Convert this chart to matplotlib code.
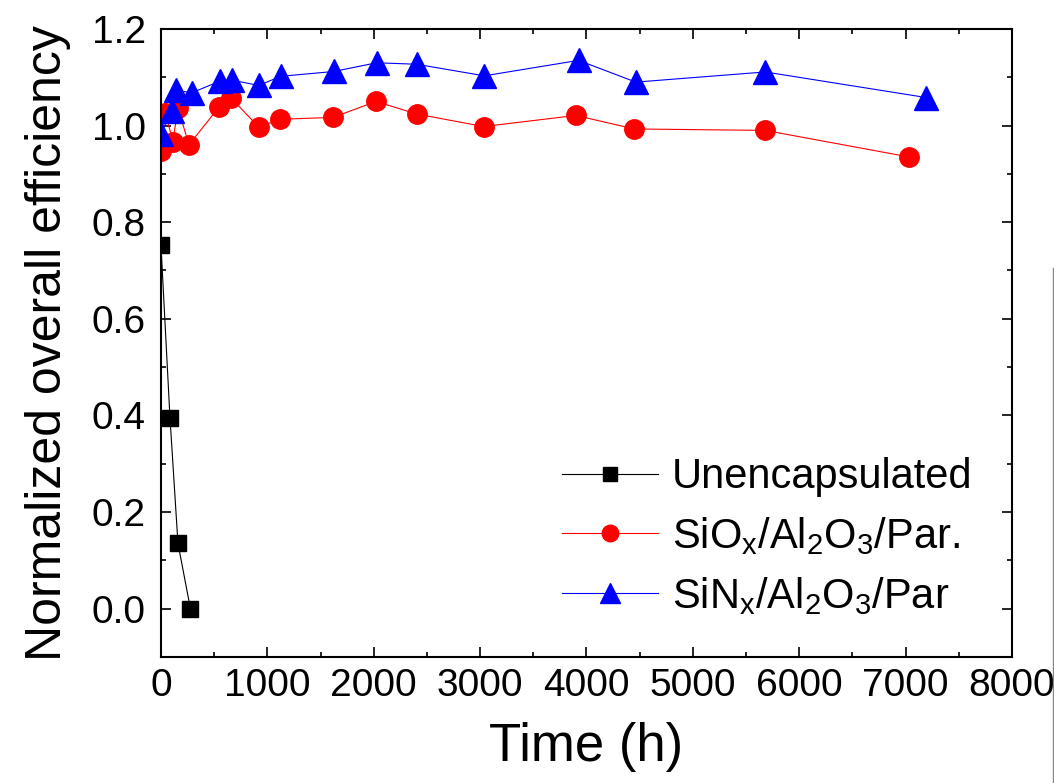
import matplotlib.pyplot as plt
from matplotlib.lines import Line2D
from matplotlib.ticker import MultipleLocator

# --Datos
t_unenc = [0, 85, 160, 277]
eff_unenc = [0.753, 0.395, 0.135, 0.0]

t_siox = [0, 40, 113, 160, 263, 545, 655, 919, 1121, 1620, 2021, 2403, 3033, 3900, 4450, 5681, 7034]
eff_siox = [0.948, 1.027, 0.967, 1.037, 0.960, 1.038, 1.058, 0.997, 1.013, 1.017, 1.050, 1.024,
            0.998, 1.021, 0.993, 0.990, 0.935]

t_sinx = [0, 100, 138, 291, 555, 670, 921, 1125, 1626, 2027, 2403, 3040, 3926, 4464, 5681, 7195]
eff_sinx = [0.983, 1.030, 1.073, 1.068, 1.092, 1.094, 1.083, 1.102, 1.112, 1.130, 1.127, 1.103,
            1.135, 1.090, 1.111, 1.058]

labels = ['Unencapsulated',
          r'SiO$_\mathregular{x}$/Al$_\mathregular{2}$O$_\mathregular{3}$/Par.',
          r'SiN$_\mathregular{x}$/Al$_\mathregular{2}$O$_\mathregular{3}$/Par']

plt.rcParams['font.family'] = ['Liberation Sans', 'DejaVu Sans']
plt.rcParams['mathtext.fontset'] = 'custom'
plt.rcParams['mathtext.rm'] = 'Liberation Sans'
plt.rcParams['mathtext.default'] = 'regular'

fig = plt.figure(figsize=(10.54, 7.83), dpi=100)
ax = fig.add_axes([0.1527, 0.161, 0.8074, 0.802])

ax.plot(t_unenc, eff_unenc, '-s', color='black', lw=0.8, ms=12, label=labels[0])
ax.plot(t_siox, eff_siox, '-o', color='#ff0000', lw=0.8, ms=14, label=labels[1])
ax.plot(t_sinx, eff_sinx, '-^', color='#0000ff', lw=0.8, ms=17, label=labels[2])

ax.set_xlim(0, 8000)
ax.set_ylim(-0.1, 1.2)
ax.xaxis.set_major_locator(MultipleLocator(1000))
ax.xaxis.set_minor_locator(MultipleLocator(500))
ax.yaxis.set_major_locator(MultipleLocator(0.2))
ax.yaxis.set_minor_locator(MultipleLocator(0.1))
ax.yaxis.set_major_formatter(plt.FormatStrFormatter('%.1f'))

ax.tick_params(which='both', direction='in', top=True, right=True, width=1.2, labelsize=28)
ax.tick_params(which='major', length=7)
ax.tick_params(which='minor', length=3.5)
ax.tick_params(axis='x', pad=8)
ax.tick_params(axis='y', pad=11)
for s in ax.spines.values():
    s.set_linewidth(1.5)

ax.set_xlabel('Time (h)', fontsize=38, labelpad=13)
ax.set_ylabel('Normalized overall efficiency', fontsize=36, labelpad=15)

ax.legend(loc='upper left', bbox_to_anchor=(0.471, 0.318), frameon=False, fontsize=30,
          handlelength=2.3, handletextpad=0.35, labelspacing=0.43, borderpad=0,
          borderaxespad=0, markerscale=0.85)

# --Linea gris del borde derecho
fig.add_artist(Line2D([0.999, 0.999], [0, 0.658], transform=fig.transFigure, color='#888888', lw=1))

fig.savefig('out.png', dpi=100)
